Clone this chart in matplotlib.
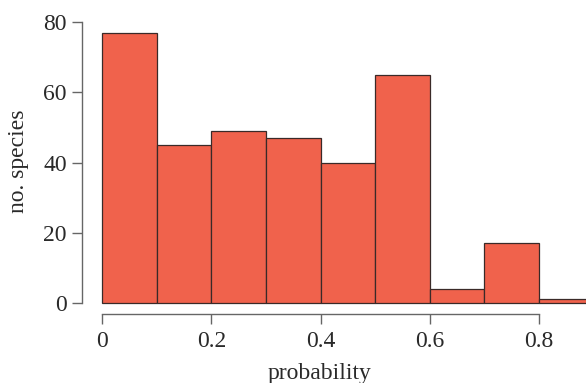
import matplotlib
matplotlib.use("Agg")
import matplotlib.pyplot as plt

bin_edges = [0.0, 0.1, 0.2, 0.3, 0.4, 0.5, 0.6, 0.7, 0.8, 0.9]
counts = [77, 45, 49, 47, 40, 65, 4, 17, 1]
x_ticks = [0, 0.2, 0.4, 0.6, 0.8]
x_ticklabels = ["0", "0.2", "0.4", "0.6", "0.8"]
y_ticks = [0, 20, 40, 60, 80]

plt.rcParams['font.family'] = ['Liberation Serif', 'DejaVu Serif']

fig = plt.figure(figsize=(5.86, 3.83), dpi=100)
W, H = 586, 383
left, right, top, bottom = 82, 586, 22, 314
ax = fig.add_axes([left / W, (H - bottom) / H, (right - left) / W, (bottom - top) / H])

widths = [bin_edges[i + 1] - bin_edges[i] for i in range(len(counts))]
ax.bar(bin_edges[:-1], counts, width=widths, align='edge',
       color='#F0624C', edgecolor='#3a2a28', linewidth=0.9)

ax.set_xlim(-0.0366, 0.886)
ax.set_ylim(-3.13, 80.0)

for s in ['top', 'right']:
    ax.spines[s].set_visible(False)
ax.spines['left'].set_bounds(0, 80)
ax.spines['bottom'].set_bounds(0, 0.8)
for s in ['left', 'bottom']:
    ax.spines[s].set_color('#666666')
    ax.spines[s].set_linewidth(1.0)

ax.set_xticks(x_ticks)
ax.set_xticklabels(x_ticklabels)
ax.set_yticks(y_ticks)
ax.tick_params(axis='both', direction='out', length=7, width=1.0, color='#666666',
               labelsize=17, labelcolor='#2a2a2a')
ax.tick_params(axis='x', pad=5)
ax.tick_params(axis='y', pad=4)

ax.set_xlabel('probability', fontsize=17, color='#2a2a2a', labelpad=8)
ax.set_ylabel('no. species', fontsize=17, color='#2a2a2a', labelpad=10)
ax.xaxis.label.set_x(0.472)
ax.yaxis.label.set_y(0.524)

fig.savefig('out.png', dpi=100)
